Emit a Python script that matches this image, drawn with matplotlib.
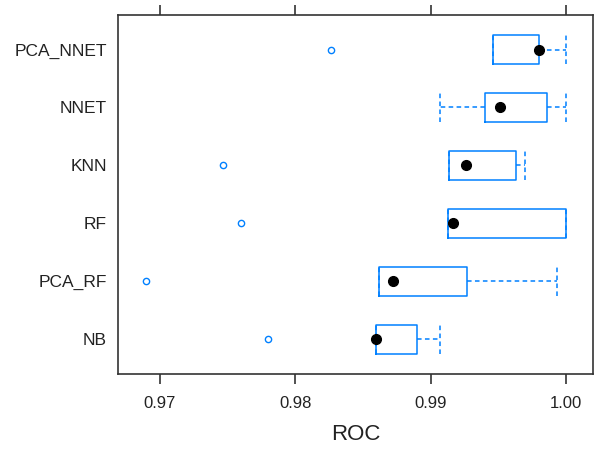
import matplotlib
matplotlib.use("Agg")
import matplotlib.pyplot as plt

plt.rcParams['font.family'] = ['Liberation Sans', 'DejaVu Sans']

# models from bottom to top
models = ['NB', 'PCA_RF', 'RF', 'KNN', 'NNET', 'PCA_NNET']
whislo = [0.98594, 0.98621, 0.99129, 0.99138, 0.99069, 0.99461]
q1 = [0.98599, 0.98621, 0.99129, 0.99138, 0.99400, 0.99461]
med = [0.98594, 0.98725, 0.99166, 0.99264, 0.99515, 0.99800]
q3 = [0.98902, 0.99271, 1.00000, 0.99631, 0.99860, 0.99800]
whishi = [0.99069, 0.99932, 1.00000, 0.99700, 1.00000, 1.00000]
outliers = [[0.97796], [0.96897], [0.97599], [0.97468], [], [0.98266]]

blue = '#0080ff'

stats = []
for i in range(len(models)):
    stats.append({'whislo': whislo[i], 'q1': q1[i], 'med': med[i],
                  'q3': q3[i], 'whishi': whishi[i], 'fliers': outliers[i],
                  'label': models[i]})

fig = plt.figure(figsize=(5.94, 4.61), dpi=100)
ax = fig.add_axes([0.1987, 0.1887, 0.7996, 0.7793])

pos = list(range(1, len(models) + 1))
ax.bxp(stats, positions=pos, widths=0.5, capwidths=0.5, orientation='horizontal',
       boxprops=dict(color=blue, linewidth=1.1),
       whiskerprops=dict(color=blue, linewidth=1.1, linestyle=(0, (3, 2.2))),
       capprops=dict(color=blue, linewidth=1.1, linestyle=(0, (3, 2.2))),
       medianprops=dict(linewidth=0),
       flierprops=dict(marker='o', markersize=4.5, markerfacecolor='white',
                       markeredgecolor=blue, markeredgewidth=1.0))

# median dots
ax.plot(med, pos, 'o', color='black', markersize=7, zorder=5)

ax.set_xlim(0.9669, 1.0020)
ax.set_ylim(0.4, 6.6)
ax.set_xticks([0.97, 0.98, 0.99, 1.00])
ax.set_xticklabels(['0.97', '0.98', '0.99', '1.00'])
ax.set_yticks(pos)
ax.set_yticklabels(models)

ax.tick_params(axis='x', which='both', top=True, labeltop=False, direction='out',
               length=7, width=1.1, labelsize=12, pad=9, colors='#222222')
ax.tick_params(axis='y', length=0, labelsize=12.5, pad=8, colors='#222222')
ax.set_xlabel('ROC', fontsize=16, color='#222222', labelpad=9)

for s in ax.spines.values():
    s.set_color('#333333')
    s.set_linewidth(1.2)

fig.savefig('out.png', dpi=100)
